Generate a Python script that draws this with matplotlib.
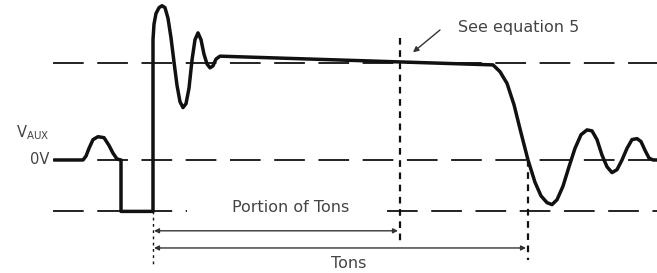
import numpy as np
import matplotlib.pyplot as plt

# waveform of the auxiliary winding (time in arbitrary units, voltage normalised to the plateau)
t_wave = [55, 83, 86, 89, 93, 98, 104, 109, 113, 117, 121, 121, 153,
          153, 154, 156, 159, 162, 165, 168, 171, 174, 177, 180, 183, 186,
          189, 192, 195, 198, 201, 204, 207, 210, 213, 216, 220,
          493, 500, 507, 514, 521, 528, 535, 541, 547, 552, 557, 563, 569,
          575, 581, 587, 592, 597, 602, 607, 612, 617, 622, 627, 632, 637,
          641, 645, 649, 653, 657]
v_wave = [0, 0, 0.04, 0.12, 0.21, 0.24, 0.23, 0.15, 0.07, 0.01, 0, -0.53, -0.53,
          1.24, 1.40, 1.51, 1.57, 1.59, 1.57, 1.46, 1.26, 1.01, 0.77, 0.60, 0.54, 0.58,
          0.74, 1.03, 1.24, 1.31, 1.24, 1.09, 0.99, 0.95, 0.97, 1.04, 1.07,
          0.98, 0.91, 0.79, 0.57, 0.28, 0, -0.23, -0.37, -0.44, -0.46, -0.41, -0.27, -0.07,
          0.12, 0.26, 0.31, 0.30, 0.21, 0.05, -0.07, -0.13, -0.10, 0, 0.12, 0.21, 0.22,
          0.19, 0.10, 0.02, 0, 0]

# reference levels: (level, start, end) - the lowest one is broken by the label
levels = [(1.0, 53, 657), (0.0, 53, 657), (-0.526, 53, 187), (-0.526, 387, 657)]
t_start = 153
t_sample = 400
t_end = 528

fig = plt.figure(figsize=(6.57, 2.73), dpi=100)
ax = fig.add_axes([0, 0, 1, 1])
ax.set_xlim(0, 657)
ax.set_ylim(-1.165, 1.649)
ax.axis('off')

ink = '#111111'
txt = '#444444'
fnt = 'DejaVu Sans'

for lv, x0, x1 in levels:
    ax.plot([x0, x1], [lv, lv], color=ink, lw=1.3, dashes=(17, 7.5), zorder=1)

# markers for sampling instant and end of Tons
ax.plot([t_sample, t_sample], [1.26, -0.845], color=ink, lw=1.6, dashes=(3, 2.5))
ax.plot([t_end, t_end], [0, -1.03], color=ink, lw=1.6, dashes=(3, 2.5))
ax.plot([t_start, t_start], [-0.526, -1.09], color=ink, lw=1.0, dashes=(2, 2.5))

ax.plot(t_wave, v_wave, color=ink, lw=2.5, solid_joinstyle='round', zorder=3)

# dimension arrows
ax.annotate('', xy=(t_sample - 2, -0.73), xytext=(t_start + 1, -0.73),
            arrowprops=dict(arrowstyle='<|-|>', color='#333333', lw=1.0,
                            mutation_scale=7, shrinkA=0, shrinkB=0))
ax.annotate('', xy=(t_end - 2, -0.907), xytext=(t_start + 1, -0.907),
            arrowprops=dict(arrowstyle='<|-|>', color='#333333', lw=1.0,
                            mutation_scale=7, shrinkA=0, shrinkB=0))

ax.text(291, -0.49, 'Portion of Tons', ha='center', va='center', fontsize=11.5,
        color=txt, family=fnt)
ax.text(349, -1.07, 'Tons', ha='center', va='center', fontsize=11.5,
        color=txt, family=fnt)
ax.text(458, 1.37, 'See equation 5', ha='left', va='center', fontsize=11.5,
        color=txt, family=fnt)
ax.annotate('', xy=(413, 1.11), xytext=(440, 1.34),
            arrowprops=dict(arrowstyle='-|>', color='#333333', lw=1.0,
                            mutation_scale=8, shrinkA=0, shrinkB=0))

ax.text(16, 0.28, r'V$_{\mathregular{AUX}}$', ha='left', va='center', fontsize=10.5,
        color=txt, family=fnt)
ax.text(49, 0.0, '0V', ha='right', va='center', fontsize=10.5,
        color=txt, family=fnt)

fig.savefig('out.png', dpi=100)
